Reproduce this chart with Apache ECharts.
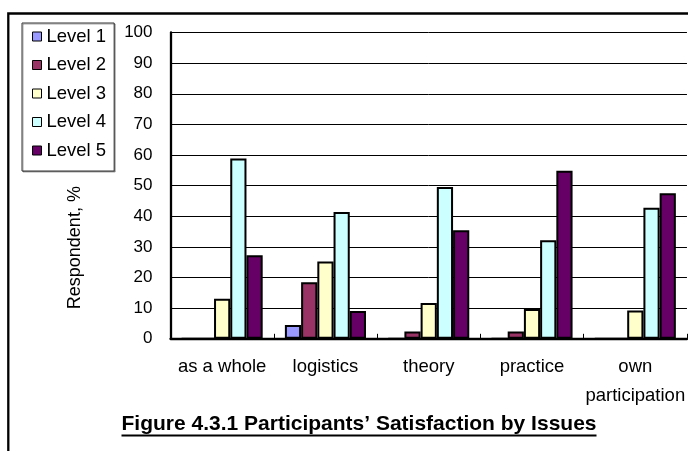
<!DOCTYPE html>
<html>
<head>
<meta charset="utf-8">
<script src="https://cdn.jsdelivr.net/npm/echarts@6/dist/echarts.min.js"></script>
<style>
  html, body { margin: 0; padding: 0; background: #fff; }
  #chart { width: 688px; height: 451px; }
</style>
</head>
<body>
<div id="chart"></div>
<script>
// Survey issues and share of respondents (%) at each satisfaction level
const categories = ['as a whole', 'logistics', 'theory', 'practice', 'own\nparticipation'];
const levelNames = ['Level 1', 'Level 2', 'Level 3', 'Level 4', 'Level 5'];
const level1 = [0, 4.5, 0, 0, 0];
const level2 = [0, 18.5, 2.4, 2.4, 0];
const level3 = [13.1, 25.2, 11.7, 9.7, 9.2];
const level4 = [58.9, 41.4, 49.6, 32.2, 42.8];
const level5 = [27.3, 9.1, 35.4, 54.9, 47.5];
const yTicks = [0, 10, 20, 30, 40, 50, 60, 70, 80, 90, 100];

const levelColors = ['#9999FF', '#993366', '#FFFFCC', '#CCFFFF', '#660066'];
const levelValues = [level1, level2, level3, level4, level5];
const FONT = '"Liberation Sans", Arial, sans-serif';

const figureTitle = 'Figure 4.3.1 Participants\u2019 Satisfaction by Issues';
const titleFontSize = 21;
const titleCenterX = 359;

// measure the caption so the underline spans exactly its width
function textWidth(text, font) {
  const ctx = document.createElement('canvas').getContext('2d');
  ctx.font = font;
  return ctx.measureText(text).width;
}
const titleW = textWidth(figureTitle, 'bold ' + titleFontSize + 'px ' + FONT);

const chart = echarts.init(document.getElementById('chart'), null, { renderer: 'canvas' });

const series = levelNames.map((name, i) => ({
  name: name,
  type: 'bar',
  data: levelValues[i],
  barGap: 0,
  barCategoryGap: '21.5%',
  itemStyle: { color: levelColors[i], borderColor: '#000', borderWidth: 2 },
  emphasis: { disabled: true }
}));

chart.setOption({
  animation: false,
  backgroundColor: '#fff',
  textStyle: { fontFamily: FONT },
  grid: { left: 170.5, top: 32.5, width: 518.3, bottom: 112.2, containLabel: false },
  legend: {
    data: levelNames,
    orient: 'vertical',
    left: 22,
    top: 23,
    padding: [4, 8, 11, 10],
    itemGap: 9.5,
    itemWidth: 9,
    itemHeight: 9,
    itemTextGap: 11,
    icon: 'rect',
    borderColor: '#333',
    borderWidth: 1,
    backgroundColor: '#fff',
    shadowColor: 'rgba(0,0,0,0.35)',
    shadowOffsetX: 1,
    shadowOffsetY: 1,
    itemStyle: { borderColor: '#000', borderWidth: 1 },
    textStyle: { fontSize: 18.5, color: '#000', fontFamily: FONT }
  },
  xAxis: {
    type: 'category',
    data: categories,
    axisLine: { show: true, lineStyle: { color: '#000', width: 2.3 } },
    axisTick: { show: true, inside: true, length: 5, interval: 0, lineStyle: { color: '#000', width: 1 } },
    axisLabel: { interval: 0, fontSize: 18.5, color: '#000', margin: 14, lineHeight: 29, fontFamily: FONT },
    splitLine: { show: false }
  },
  yAxis: {
    type: 'value',
    min: yTicks[0],
    max: yTicks[yTicks.length - 1],
    interval: yTicks[1] - yTicks[0],
    name: 'Respondent, %',
    nameLocation: 'middle',
    nameRotate: 90,
    nameGap: 86,
    nameTextStyle: { fontSize: 18, color: '#000', padding: [0, 124, 0, 0], fontFamily: FONT },
    axisLine: { show: true, lineStyle: { color: '#000', width: 2.3 } },
    axisTick: { show: false },
    axisLabel: { fontSize: 17, color: '#000', margin: 18, fontFamily: FONT },
    splitLine: { show: true, lineStyle: { color: '#000', width: 1 } }
  },
  series: series,
  graphic: [
    {
      // outer frame of the figure
      type: 'rect',
      silent: true,
      z: -1,
      shape: { x: 8.3, y: 13.5, width: 1000, height: 1000 },
      style: { fill: null, stroke: '#000', lineWidth: 2.3 }
    },
    {
      type: 'text',
      silent: true,
      x: titleCenterX,
      y: 424,
      style: {
        text: figureTitle,
        fill: '#000',
        font: 'bold ' + titleFontSize + 'px ' + FONT,
        textAlign: 'center',
        textVerticalAlign: 'middle'
      }
    },
    {
      type: 'line',
      silent: true,
      shape: { x1: titleCenterX - titleW / 2, y1: 435.5, x2: titleCenterX + titleW / 2, y2: 435.5 },
      style: { stroke: '#000', lineWidth: 2.2 }
    }
  ]
});
</script>
</body>
</html>
